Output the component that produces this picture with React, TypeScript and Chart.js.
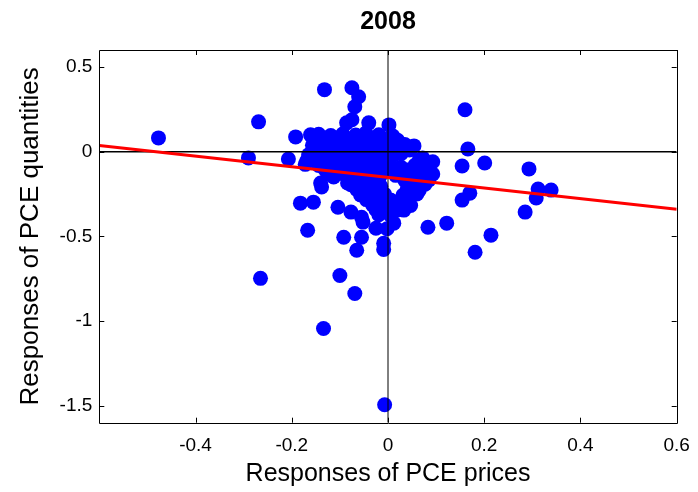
import React, { useEffect, useRef } from "react";
import { Chart, registerables } from "chart.js";

Chart.register(...registerables);

// Responses of PCE prices (x) and quantities (y), 2008
const pricesResp = [
  -0.477, -0.290, -0.269, -0.265, -0.192, -0.161, -0.207, -0.169, -0.182, -0.155,
  -0.167, -0.132, -0.075, -0.061, -0.069, -0.086, -0.075, -0.040, 0.002, -0.130,
  -0.104, 0.054, 0.093, -0.138, -0.104, -0.077, -0.055, -0.052, -0.092, -0.055,
  -0.065, -0.025, -0.009, -0.009, 0.012, 0.033, -0.100, -0.069, -0.134, -0.007,
  0.160, 0.166, 0.154, 0.201, 0.293, 0.312, 0.339, 0.308, 0.285, 0.170,
  0.154, 0.083, 0.122, 0.214, 0.181, 0.075, 0.054, -0.140, -0.113, -0.084,
  -0.144, -0.119, -0.094, -0.067, -0.046, -0.019, 0.010,
  -0.157, -0.136, -0.111, -0.086, -0.061, -0.036, -0.011, 0.014, 0.035,
  -0.165, -0.140, -0.115, -0.090, -0.065, -0.040, -0.015, 0.010, 0.027, 0.072,
  -0.172, -0.144, -0.119, -0.094, -0.069, -0.044, -0.019, 0.006, 0.027, 0.056, 0.079,
  -0.119, -0.088, -0.063, -0.040, -0.015, 0.016, 0.047, 0.072, 0.093,
  -0.077, -0.053, -0.027, -0.015, 0.052, 0.077,
  -0.057, -0.032, -0.007, 0.031, 0.060,
  -0.032, -0.007, 0.018, 0.047,
  -0.019, 0.006,
  -0.002,
  -0.130, -0.100, -0.075, -0.050, -0.025, 0.000, 0.020,
  -0.150, -0.125, -0.100, -0.075, -0.050, -0.025, 0.000, 0.020, 0.045,
  -0.155, -0.130, -0.105, -0.080, -0.055, -0.030, -0.005, 0.065,
  -0.130, -0.105, -0.080, -0.055, -0.030, -0.005, 0.020, 0.040, 0.065, 0.085,
  -0.070, -0.045, -0.020, 0.035, 0.060, 0.085,
  -0.065, -0.040, -0.015, 0.040, 0.065,
  -0.045, -0.020, 0.005, 0.035,
  -0.025, 0.000, 0.020,
];

const quantitiesResp = [
  0.081, -0.037, 0.176, -0.748, 0.087, 0.099, -0.043, -0.055, -0.304, -0.298,
  -0.464, 0.366, 0.377, 0.324, 0.265, 0.170, 0.188, 0.170, 0.158, 0.057,
  0.081, 0.034, -0.060, -0.209, -0.328, -0.357, -0.387, -0.416, -0.505, -0.505,
  -0.582, -0.452, -0.541, -0.577, -0.422, -0.345, -0.731, -0.837, -1.044, -1.494,
  0.247, 0.016, -0.085, -0.067, -0.102, -0.221, -0.227, -0.274, -0.357, -0.245,
  -0.286, -0.446, -0.422, -0.493, -0.594, -0.120, -0.227, -0.185, -0.150, -0.185,
  0.102, 0.095, 0.104, 0.098, 0.110, 0.100, 0.092,
  0.038, 0.045, 0.036, 0.043, 0.040, 0.035, 0.046, 0.038, 0.042,
  -0.018, -0.024, -0.015, -0.022, -0.018, -0.025, -0.016, -0.022, -0.012, -0.037,
  -0.075, -0.082, -0.077, -0.085, -0.078, -0.083, -0.076, -0.084, -0.092, -0.080, -0.072,
  -0.136, -0.140, -0.134, -0.142, -0.137, -0.140, -0.135, -0.145, -0.132,
  -0.195, -0.200, -0.194, -0.205, -0.198, -0.192,
  -0.255, -0.260, -0.252, -0.258, -0.250,
  -0.314, -0.320, -0.312, -0.318,
  -0.372, -0.378,
  -0.455,
  0.072, 0.068, 0.075, 0.066, 0.070, 0.073, 0.067,
  0.012, 0.008, 0.014, 0.006, 0.011, 0.009, 0.013, 0.007, 0.010,
  -0.048, -0.052, -0.046, -0.054, -0.050, -0.047, -0.053, -0.049,
  -0.108, -0.112, -0.106, -0.114, -0.110, -0.107, -0.113, -0.109, -0.111, -0.105,
  -0.168, -0.172, -0.166, -0.170, -0.174, -0.167,
  -0.223, -0.228, -0.225, -0.221, -0.227,
  -0.283, -0.288, -0.285, -0.282,
  -0.343, -0.348, -0.344,
];

// Fitted regression line end points
const fitX = [-0.6, 0.6];
const fitY = [0.036, -0.34];

const xRange = [-0.6, 0.6];
const yRange = [-1.6, 0.6];
const xTicks = [-0.4, -0.2, 0, 0.2, 0.4, 0.6];
const yTicks = [-1.5, -1, -0.5, 0, 0.5];

const FONT = "'Liberation Sans', Arial, Helvetica, sans-serif";

const framePlugin = {
  id: "frame",
  afterDraw(chart: any) {
    const { ctx, chartArea } = chart;
    const { left, right, top, bottom } = chartArea;
    const xs = chart.scales.x;
    const ys = chart.scales.y;
    ctx.save();
    ctx.strokeStyle = "#000";
    ctx.lineWidth = 1;
    ctx.beginPath();
    ctx.rect(Math.round(left) + 0.5, Math.round(top) + 0.5, Math.round(right) - Math.round(left), Math.round(bottom) - Math.round(top));
    ctx.stroke();
    const tl = 5;
    ctx.beginPath();
    xs.ticks.forEach((t: any) => {
      const px = Math.round(xs.getPixelForValue(t.value)) + 0.5;
      ctx.moveTo(px, bottom);
      ctx.lineTo(px, bottom - tl);
      ctx.moveTo(px, top);
      ctx.lineTo(px, top + tl);
    });
    ys.ticks.forEach((t: any) => {
      const py = Math.round(ys.getPixelForValue(t.value)) + 0.5;
      ctx.moveTo(left, py);
      ctx.lineTo(left + tl, py);
      ctx.moveTo(right, py);
      ctx.lineTo(right - tl, py);
    });
    ctx.stroke();
    ctx.restore();
  },
};

export default function App() {
  const ref = useRef<HTMLCanvasElement | null>(null);

  useEffect(() => {
    if (!ref.current) return;
    const points = pricesResp.map((x, i) => ({ x, y: quantitiesResp[i] }));
    const fit = fitX.map((x, i) => ({ x, y: fitY[i] }));
    const zeroH = [{ x: xRange[0], y: 0 }, { x: xRange[1], y: 0 }];
    const zeroV = [{ x: 0, y: yRange[0] }, { x: 0, y: yRange[1] }];

    const chart = new Chart(ref.current, {
      type: "scatter",
      data: {
        datasets: [
          {
            type: "line",
            data: fit,
            borderColor: "#ff0000",
            borderWidth: 3,
            pointRadius: 0,
            showLine: true,
            order: 0,
          } as any,
          {
            type: "line",
            data: zeroH,
            borderColor: "#000",
            borderWidth: 1.5,
            pointRadius: 0,
            showLine: true,
            order: 1,
          } as any,
          {
            type: "line",
            data: zeroV,
            borderColor: "#000",
            borderWidth: 1,
            pointRadius: 0,
            showLine: true,
            order: 1,
          } as any,
          {
            data: points,
            backgroundColor: "#0000ff",
            borderWidth: 0,
            pointRadius: 7.5,
            order: 2,
          },
        ],
      },
      options: {
        animation: false,
        responsive: false,
        devicePixelRatio: 1,
        layout: { padding: { left: 0, right: 21.3, top: 0, bottom: 0 } },
        plugins: {
          legend: { display: false },
          tooltip: { enabled: false },
          title: {
            display: true,
            text: "2008",
            color: "#000",
            font: { family: FONT, size: 25, weight: "bold", lineHeight: 1.2 },
            padding: { top: 7, bottom: 13 },
            fullSize: false,
          } as any,
        },
        scales: {
          x: {
            type: "linear",
            min: xRange[0],
            max: xRange[1],
            afterBuildTicks: (s: any) => {
              s.ticks = xTicks.map((v) => ({ value: v }));
            },
            afterFit: (s: any) => {
              s.height = 69.3;
              s.paddingLeft = 0;
              s.paddingRight = 0;
            },
            grid: { display: false, drawTicks: false },
            border: { display: false },
            ticks: {
              color: "#000",
              font: { family: FONT, size: 19 },
              padding: 12,
              maxRotation: 0,
              autoSkip: false,
              callback: (v: any) => String(v),
            },
            title: {
              display: true,
              text: "Responses of PCE prices",
              color: "#000",
              font: { family: FONT, size: 25, lineHeight: 1.2 },
              padding: { top: 0, bottom: 3 },
            },
          },
          y: {
            type: "linear",
            min: yRange[0],
            max: yRange[1],
            afterBuildTicks: (s: any) => {
              s.ticks = yTicks.map((v) => ({ value: v }));
            },
            afterFit: (s: any) => {
              s.width = 99.3;
              s.paddingTop = 0;
              s.paddingBottom = 0;
            },
            grid: { display: false, drawTicks: false },
            border: { display: false },
            ticks: {
              color: "#000",
              font: { family: FONT, size: 19 },
              padding: 7,
              autoSkip: false,
              callback: (v: any) => String(v),
            },
            title: {
              display: true,
              text: "Responses of PCE quantities",
              color: "#000",
              font: { family: FONT, size: 26, lineHeight: 1.2 },
              padding: { top: 15, bottom: 0 },
            },
          },
        },
      },
      plugins: [framePlugin],
    });
    return () => chart.destroy();
  }, []);

  return (
    <div style={{ position: "fixed", left: 0, top: 0, width: 698, height: 492, background: "#fff" }}>
      <canvas ref={ref} width={698} height={492} style={{ display: "block" }} />
    </div>
  );
}
